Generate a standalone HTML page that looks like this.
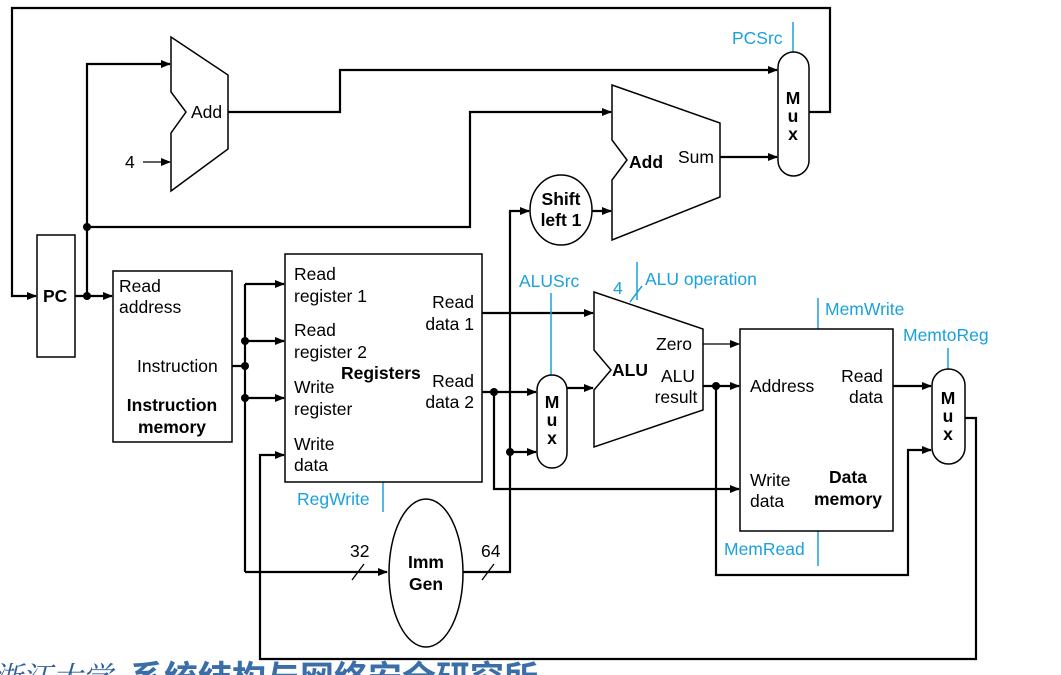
<!DOCTYPE html>
<html><head><meta charset="utf-8"><style>
html,body{margin:0;padding:0;background:#fff;}
svg{display:block;}
text{font-family:"Liberation Sans",Arial,sans-serif;font-size:17.5px;fill:#000;}
.b{font-weight:bold;}
.c{fill:#1ba1dc;}
.cl{stroke:#1ba1dc;stroke-width:1.5;fill:none;}
.w{stroke:#000;stroke-width:2.2;fill:none;}
.t{stroke:#000;stroke-width:1.3;fill:none;}
.s{stroke:#000;stroke-width:1.5;fill:#fff;}
</style></head><body>
<svg width="1061" height="675" viewBox="0 0 1061 675" xmlns="http://www.w3.org/2000/svg">
<defs>
<marker id="a" markerWidth="10" markerHeight="8" refX="9" refY="4" orient="auto" markerUnits="userSpaceOnUse"><path d="M0,0 L10,4 L0,8 z" fill="#000"/></marker>
</defs>
<path class="w" d="M809,112 L830,112 L830,8 L12,8 L12,296 L36,296" marker-end="url(#a)"/>
<path class="w" d="M75,296 L112,296" marker-end="url(#a)"/>
<path class="w" d="M87,296 L87,64 L170,64" marker-end="url(#a)"/>
<path class="w" d="M87,227 L470,227 L470,112 L611,112" marker-end="url(#a)"/>
<path class="w" d="M228,112 L340,112 L340,70 L777,70" marker-end="url(#a)"/>
<path class="t" d="M143,162 L170,162" marker-end="url(#a)"/>
<path class="w" d="M720,157 L777,157" marker-end="url(#a)"/>
<path class="w" d="M592,211 L611,211" marker-end="url(#a)"/>
<path class="w" d="M232,366 L245,366 M245,284 L245,572"/>
<path class="w" d="M245,284 L284,284" marker-end="url(#a)"/>
<path class="w" d="M245,341 L284,341" marker-end="url(#a)"/>
<path class="w" d="M245,398 L284,398" marker-end="url(#a)"/>
<path class="w" d="M245,572 L387,572" marker-end="url(#a)"/>
<path class="w" d="M965,418 L976,418 L976,659 L260,659 L260,455 L284,455" marker-end="url(#a)"/>
<path class="w" d="M482,313 L593,313" marker-end="url(#a)"/>
<path class="w" d="M482,392 L536,392" marker-end="url(#a)"/>
<path class="w" d="M494,392 L494,489 L739,489" marker-end="url(#a)"/>
<path class="w" d="M463,572 L510,572 L510,211 L529,211" marker-end="url(#a)"/>
<path class="w" d="M510,452 L536,452" marker-end="url(#a)"/>
<path class="w" d="M567,388 L593,388" marker-end="url(#a)"/>
<path class="t" d="M703,344 L739,344" marker-end="url(#a)"/>
<path class="w" d="M703,386 L739,386" marker-end="url(#a)"/>
<path class="w" d="M716,386 L716,575 L908,575 L908,450 L931,450" marker-end="url(#a)"/>
<path class="w" d="M893,386 L931,386" marker-end="url(#a)"/>
<path class="t" d="M352,580 L364,564 M482,580 L494,564"/>
<path class="cl" d="M630,302 L642,286"/>
<g fill="#000"><circle cx="87" cy="296" r="4"/><circle cx="87" cy="227" r="4"/><circle cx="245" cy="366" r="4"/><circle cx="245" cy="341" r="4"/><circle cx="245" cy="398" r="4"/><circle cx="494" cy="392" r="4"/><circle cx="510" cy="452" r="4"/><circle cx="716" cy="386" r="4"/></g>
<path class="cl" d="M793,22 L793,52 M383,482 L383,512 M551,293 L551,375 M637,262 L637,300 M818,298 L818,329 M818,531 L818,566 M948,348 L948,369"/>
<rect class="s" x="37" y="235" width="38" height="122"/>
<rect class="s" x="113" y="271" width="119" height="171"/>
<rect class="s" x="285" y="254" width="197" height="228"/>
<rect class="s" x="740" y="329" width="153" height="202"/>
<path class="s" d="M171,37 L228,75 L228,149 L171,191 L171,133 L186,112 L171,92 Z"/>
<path class="s" d="M612,85 L720,123 L720,197 L612,240 L612,180 L627,160 L612,140 Z"/>
<path class="s" d="M594,292 L703,329 L703,410 L594,447 L594,390 L611,370 L594,350 Z"/>
<ellipse class="s" cx="561" cy="210" rx="31" ry="35"/>
<ellipse class="s" cx="426" cy="573" rx="37" ry="74"/>
<rect class="s" x="778" y="52" width="31" height="124" rx="15.5"/>
<rect class="s" x="537" y="375" width="30" height="93" rx="15"/>
<rect class="s" x="932" y="369" width="33" height="95" rx="16.5"/>
<text x="43" y="302" class="b">PC</text>
<text x="191" y="118">Add</text>
<text x="125" y="168">4</text>
<text x="629" y="168" class="b">Add</text>
<text x="678" y="163">Sum</text>
<text x="561" y="205" class="b" text-anchor="middle">Shift</text>
<text x="561" y="226" class="b" text-anchor="middle">left 1</text>
<text x="793" y="104" class="b" text-anchor="middle">M</text>
<text x="793" y="122" class="b" text-anchor="middle">u</text>
<text x="793" y="140" class="b" text-anchor="middle">x</text>
<text x="552" y="408" class="b" text-anchor="middle">M</text>
<text x="552" y="426" class="b" text-anchor="middle">u</text>
<text x="552" y="444" class="b" text-anchor="middle">x</text>
<text x="948" y="404" class="b" text-anchor="middle">M</text>
<text x="948" y="422" class="b" text-anchor="middle">u</text>
<text x="948" y="440" class="b" text-anchor="middle">x</text>
<text x="119" y="292">Read</text>
<text x="119" y="313">address</text>
<text x="137" y="372">Instruction</text>
<text x="172" y="411" class="b" text-anchor="middle">Instruction</text>
<text x="172" y="433" class="b" text-anchor="middle">memory</text>
<text x="294" y="280">Read</text><text x="294" y="302">register 1</text>
<text x="294" y="336">Read</text><text x="294" y="358">register 2</text>
<text x="294" y="393">Write</text><text x="294" y="415">register</text>
<text x="294" y="450">Write</text><text x="294" y="471">data</text>
<text x="341" y="379" class="b">Registers</text>
<text x="474" y="308" text-anchor="end">Read</text><text x="474" y="330" text-anchor="end">data 1</text>
<text x="474" y="387" text-anchor="end">Read</text><text x="474" y="408" text-anchor="end">data 2</text>
<text x="426" y="568" class="b" text-anchor="middle">Imm</text>
<text x="426" y="590" class="b" text-anchor="middle">Gen</text>
<text x="350" y="557">32</text>
<text x="481" y="557">64</text>
<text x="612" y="376" class="b">ALU</text>
<text x="656" y="350">Zero</text>
<text x="678" y="382" text-anchor="middle">ALU</text>
<text x="676" y="403" text-anchor="middle">result</text>
<text x="613" y="294" class="c">4</text>
<text x="750" y="392">Address</text>
<text x="862" y="382" text-anchor="middle">Read</text>
<text x="866" y="403" text-anchor="middle">data</text>
<text x="750" y="486">Write</text><text x="750" y="507">data</text>
<text x="848" y="483" class="b" text-anchor="middle">Data</text>
<text x="848" y="505" class="b" text-anchor="middle">memory</text>
<text x="732" y="44" class="c">PCSrc</text>
<text x="297" y="505" class="c">RegWrite</text>
<text x="519" y="287" class="c">ALUSrc</text>
<text x="645" y="285" class="c">ALU operation</text>
<text x="825" y="315" class="c">MemWrite</text>
<text x="903" y="341" class="c">MemtoReg</text>
<text x="724" y="555" class="c">MemRead</text>
<text x="-8" y="688" style="font-family:'Liberation Serif','Noto Serif CJK SC',serif;font-size:30px;fill:#2f5f9a;font-style:italic;">浙江大学</text>
<text x="130" y="690" style="font-family:'Liberation Sans','Noto Sans CJK SC',sans-serif;font-size:34px;font-weight:bold;fill:#3a6ea8;">系统结构与网络安全研究所</text>
</svg>
</body></html>
